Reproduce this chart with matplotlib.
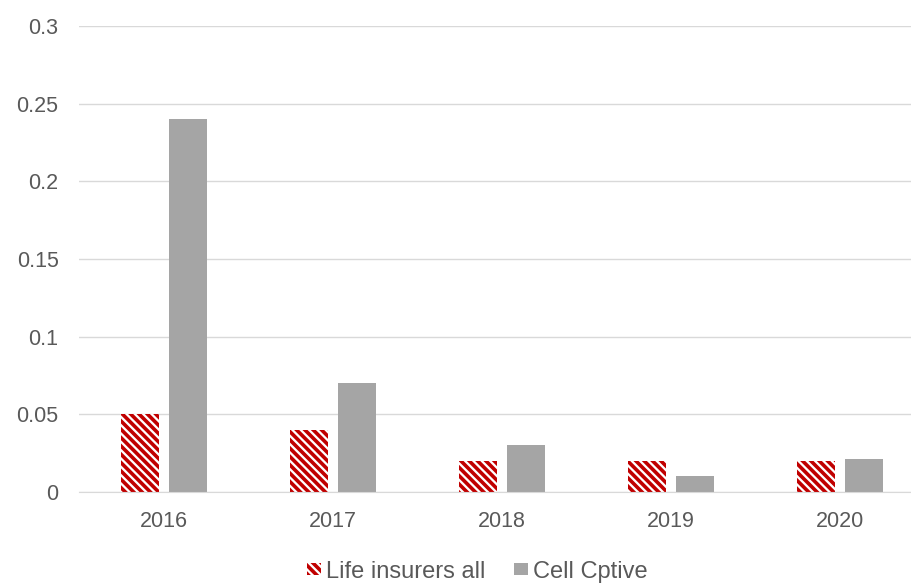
import numpy as np
import matplotlib.pyplot as plt

years = ['2016', '2017', '2018', '2019', '2020']
life_all = [0.05, 0.04, 0.02, 0.02, 0.02]
cell_captive = [0.24, 0.07, 0.03, 0.01, 0.021]

plt.rcParams['font.family'] = ['Liberation Sans', 'DejaVu Sans']
plt.rcParams['hatch.linewidth'] = 2.6
plt.rcParams['hatch.color'] = '#C00000'

fig = plt.figure(figsize=(9.12, 5.84), dpi=100)
ax = fig.add_axes([0.087, 0.1575, 0.9265, 0.798])

x = np.arange(len(years))
w = 0.225
off = 0.142
ax.bar(x - off, life_all, w, color='white', edgecolor='#C00000', linewidth=0,
       hatch='\\\\\\\\', label='Life insurers all')
ax.bar(x + off, cell_captive, w, color='#A5A5A5', label='Cell Cptive')

ax.set_xlim(-0.5, len(years) - 0.5)
ax.set_ylim(0, 0.3)
ax.set_yticks([0, 0.05, 0.1, 0.15, 0.2, 0.25, 0.3])
ax.set_yticklabels(['0', '0.05', '0.1', '0.15', '0.2', '0.25', '0.3'])
ax.set_xticks(x)
ax.set_xticklabels(years)
ax.yaxis.grid(True, color='#D9D9D9', linewidth=1)
ax.set_axisbelow(True)
for s in ['top', 'right', 'left']:
    ax.spines[s].set_visible(False)
ax.spines['bottom'].set_color('#D9D9D9')
ax.tick_params(axis='both', length=0, labelsize=15.5, labelcolor='#595959', pad=14)
ax.tick_params(axis='y', pad=15)

ax.legend(loc='upper center', bbox_to_anchor=(0.471, -0.102), ncol=2, frameon=False,
          fontsize=17, labelcolor='#595959', handlelength=0.6, handleheight=0.4,
          handletextpad=0.2, columnspacing=1.2)

fig.savefig('out.png', dpi=100)
